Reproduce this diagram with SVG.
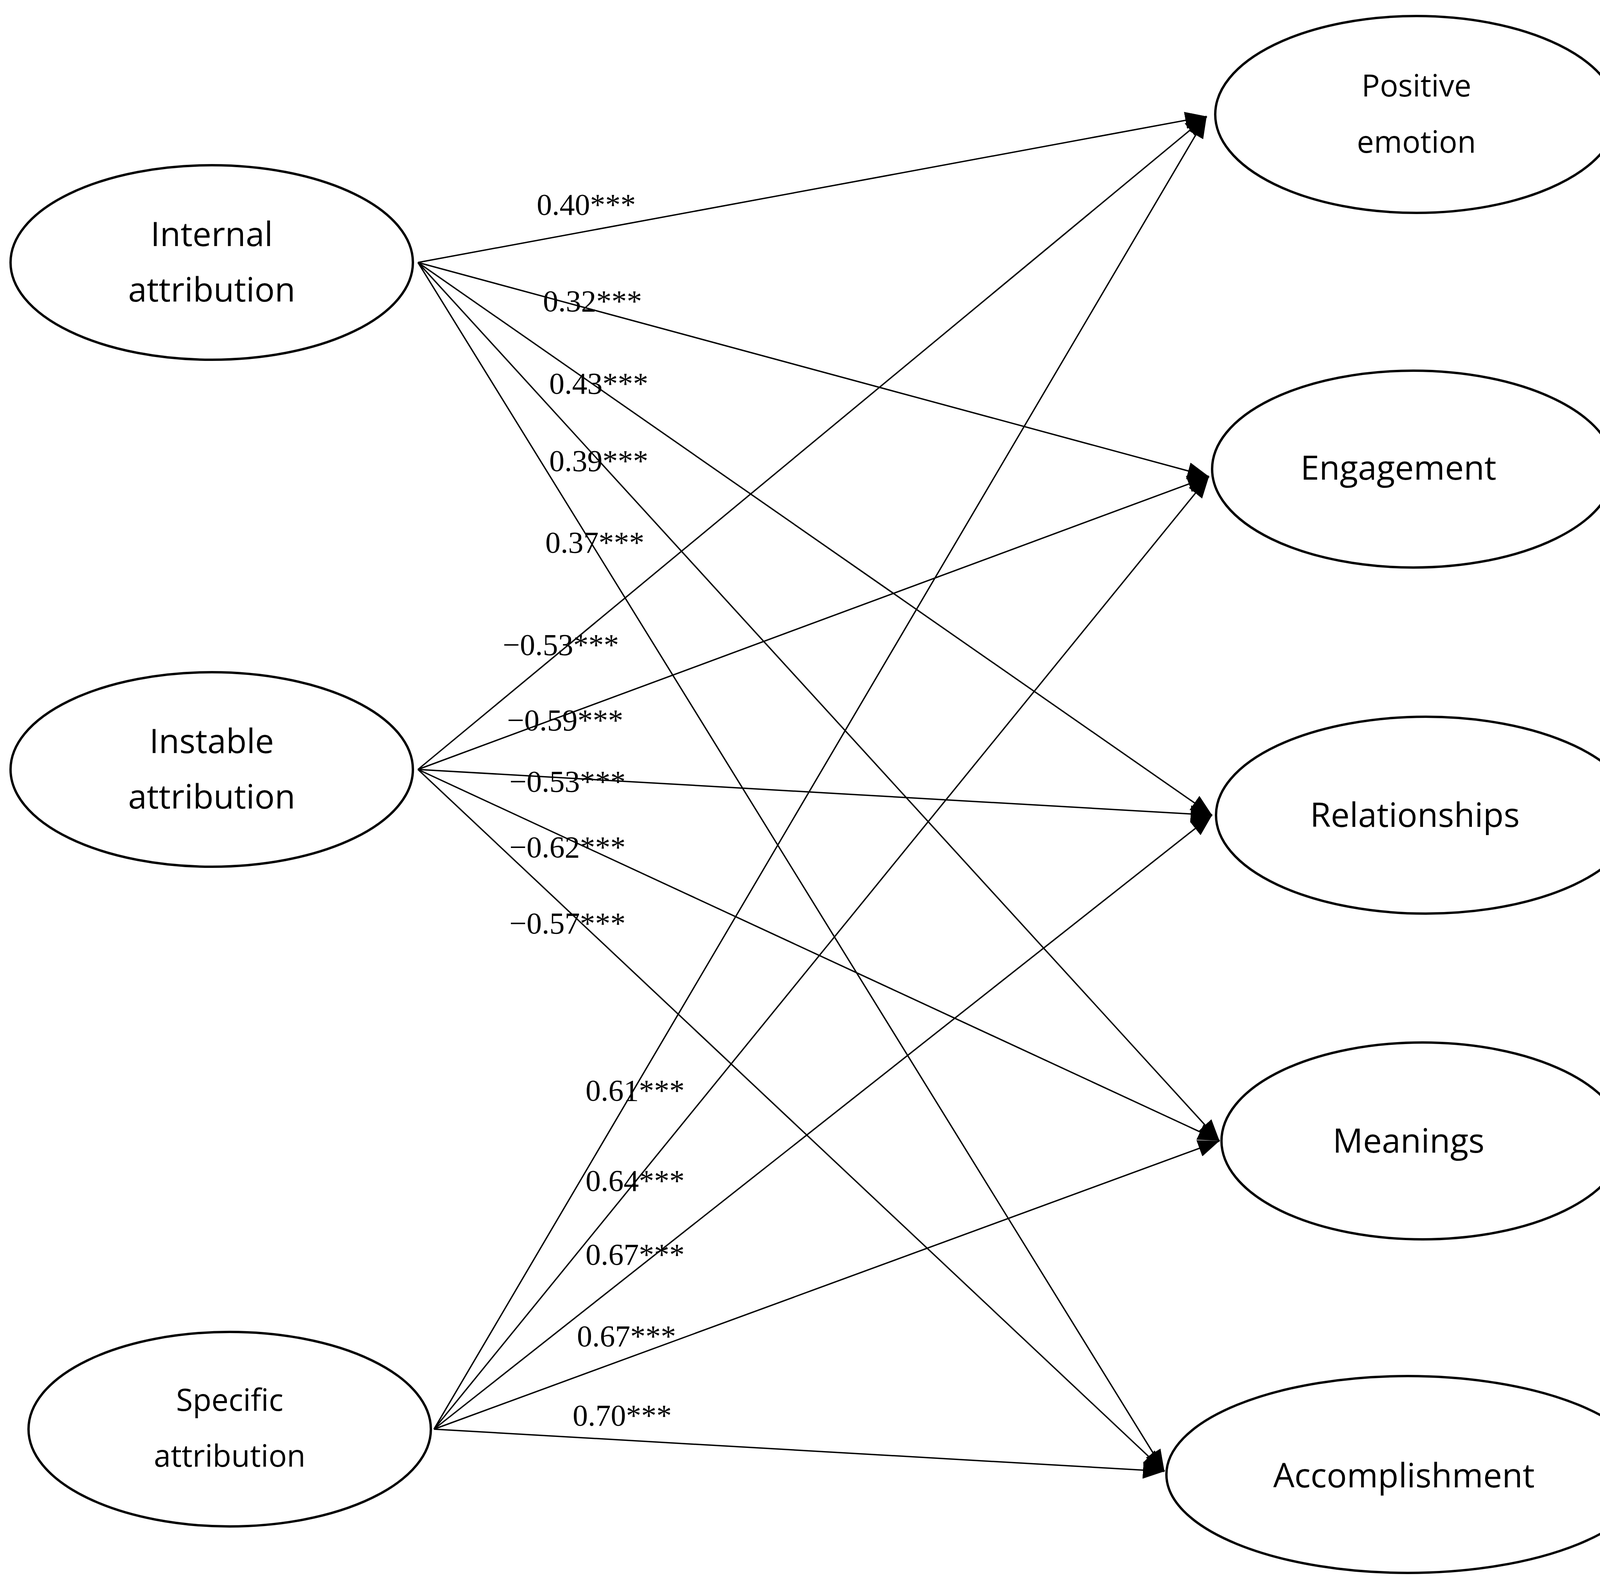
<svg xmlns="http://www.w3.org/2000/svg" width="4250" height="4081" viewBox="0 0 4250 4081">
<style>
.n{fill:#fff;stroke:#000;stroke-width:6}
.t{font-family:"Open Sans","Noto Sans",sans-serif;font-size:86px;text-anchor:middle;fill:#000}
.s{font-size:78px}
.c line{stroke:#000;stroke-width:3.5}
.l{font-family:"Liberation Serif",serif;font-size:78px;fill:#000}
</style>
<defs><marker id="a" viewBox="0 0 10 8" refX="10" refY="4" markerWidth="55" markerHeight="44" markerUnits="userSpaceOnUse" orient="auto"><path d="M0,0L10,4L0,8z" fill="#000"/></marker></defs>
<rect width="4250" height="4081" fill="#fff"/>
<g class="c">
<line x1="1070" y1="672" x2="3089" y2="298" marker-end="url(#a)"/>
<line x1="1070" y1="672" x2="3095" y2="1220" marker-end="url(#a)"/>
<line x1="1070" y1="672" x2="3103" y2="2087" marker-end="url(#a)"/>
<line x1="1070" y1="672" x2="3122" y2="2921" marker-end="url(#a)"/>
<line x1="1070" y1="672" x2="2981" y2="3767" marker-end="url(#a)"/>
<line x1="1070" y1="1970" x2="3089" y2="298" marker-end="url(#a)"/>
<line x1="1070" y1="1970" x2="3095" y2="1220" marker-end="url(#a)"/>
<line x1="1070" y1="1970" x2="3103" y2="2087" marker-end="url(#a)"/>
<line x1="1070" y1="1970" x2="3122" y2="2921" marker-end="url(#a)"/>
<line x1="1070" y1="1970" x2="2981" y2="3767" marker-end="url(#a)"/>
<line x1="1111" y1="3659" x2="3089" y2="298" marker-end="url(#a)"/>
<line x1="1111" y1="3659" x2="3095" y2="1220" marker-end="url(#a)"/>
<line x1="1111" y1="3659" x2="3103" y2="2087" marker-end="url(#a)"/>
<line x1="1111" y1="3659" x2="3122" y2="2921" marker-end="url(#a)"/>
<line x1="1111" y1="3659" x2="2981" y2="3767" marker-end="url(#a)"/>
</g>
<g id="labels" class="l">
<text x="1374" y="550">0.40***</text>
<text x="1390" y="797">0.32***</text>
<text x="1406" y="1008">0.43***</text>
<text x="1406" y="1206">0.39***</text>
<text x="1396" y="1415">0.37***</text>
<text x="1287" y="1677">−0.53***</text>
<text x="1298" y="1870">−0.59***</text>
<text x="1304" y="2027">−0.53***</text>
<text x="1304" y="2195">−0.62***</text>
<text x="1304" y="2390">−0.57***</text>
<text x="1499" y="2818">0.61***</text>
<text x="1499" y="3049">0.64***</text>
<text x="1499" y="3238">0.67***</text>
<text x="1477" y="3447">0.67***</text>
<text x="1466" y="3650">0.70***</text>
</g>
<g id="internal"><ellipse class="n" cx="542" cy="672" rx="515" ry="249"/><text class="t" x="542" y="630">Internal</text><text class="t" x="542" y="772">attribution</text></g>
<g id="instable"><ellipse class="n" cx="542" cy="1970" rx="515" ry="249"/><text class="t" x="542" y="1928">Instable</text><text class="t" x="542" y="2070">attribution</text></g>
<g id="specific"><ellipse class="n" cx="588" cy="3659" rx="515" ry="249"/><text class="t s" x="588" y="3612">Specific</text><text class="t s" x="588" y="3755">attribution</text></g>
<g id="positive"><ellipse class="n" cx="3626" cy="293" rx="515" ry="252"/><text class="t s" x="3626" y="247">Positive</text><text class="t s" x="3626" y="391">emotion</text></g>
<g id="engagement"><ellipse class="n" cx="3618" cy="1201" rx="515" ry="252"/><text class="t" x="3580" y="1228">Engagement</text></g>
<g id="relationships"><ellipse class="n" cx="3650" cy="2087" rx="537" ry="252"/><text class="t" x="3622" y="2117">Relationships</text></g>
<g id="meanings"><ellipse class="n" cx="3642" cy="2921" rx="515" ry="252"/><text class="t" x="3606" y="2951">Meanings</text></g>
<g id="accomplishment"><ellipse class="n" cx="3604" cy="3775" rx="618" ry="252"/><text class="t" x="3594" y="3808">Accomplishment</text></g>
</svg>
